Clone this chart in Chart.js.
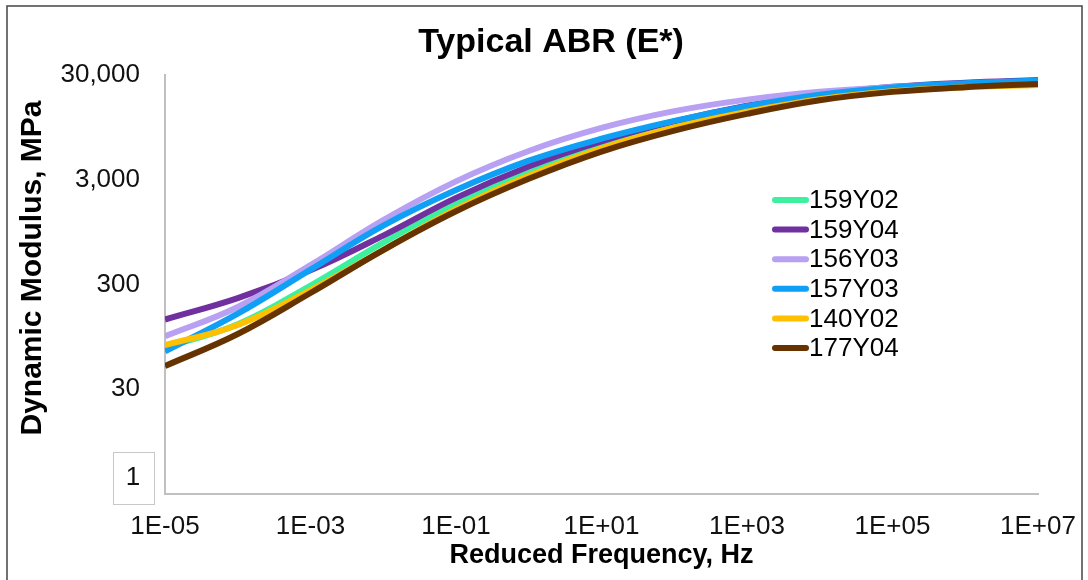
<!DOCTYPE html>
<html>
<head>
<meta charset="utf-8">
<script src="https://cdn.jsdelivr.net/npm/chart.js@4/dist/chart.umd.min.js"></script>
<style>
  html, body { margin: 0; padding: 0; background: #fff; }
  #wrap { width: 1088px; height: 580px; position: relative; }
</style>
</head>
<body>
<div id="wrap"><canvas id="abr-canvas"></canvas></div>
<script>
// reduced frequency (Hz), one point per decade
const freqs = [1e-5, 1e-4, 1e-3, 1e-2, 1e-1, 1e0, 1e1, 1e2, 1e3, 1e4, 1e5, 1e6, 1e7];

// dynamic modulus |E*| (MPa)
const e159Y02 = [75, 125, 293, 753, 1766, 3524, 6266, 9705, 13709, 18072, 21727, 24099, 25527];
const e159Y04 = [139, 222, 410, 879, 2014, 4018, 6982, 10814, 15276, 19679, 23121, 25354, 26853];
const e156Y03 = [96, 183, 459, 1236, 2897, 5649, 9376, 13552, 17458, 20749, 23014, 24660, 25823];
const e157Y03 = [69, 158, 416, 1094, 2393, 4560, 7396, 10940, 15101, 19454, 22856, 25061, 26546];
const e140Y02 = [79, 123, 265, 640, 1570, 3281, 5970, 9462, 13366, 17620, 20941, 22961, 24044];
const e177Y04 = [50, 101, 249, 640, 1500, 3062, 5572, 8831, 12764, 17219, 20701, 22961, 24604];

const seriesNames = ['159Y02', '159Y04', '156Y03', '157Y03', '140Y02', '177Y04'];
const seriesValues = [e159Y02, e159Y04, e156Y03, e157Y03, e140Y02, e177Y04];
const seriesColors = ['#3cf0a0', '#7030a0', '#b8a0f2', '#0fa0f5', '#ffc000', '#663300'];

const xTicks = [1e-5, 1e-3, 1e-1, 1e1, 1e3, 1e5, 1e7];
const yTicks = [3, 30, 300, 3000, 30000];

const FONT = "'Liberation Sans', Arial, sans-serif";

const datasets = seriesNames.map(function (name, i) {
    return {
        label: name,
        data: freqs.map(function (f, j) { return { x: f, y: seriesValues[i][j] }; }),
        borderColor: seriesColors[i],
        backgroundColor: seriesColors[i],
        borderWidth: 6,
        pointRadius: 0,
        tension: 0.4,
        fill: false,
        order: seriesNames.length - i
    };
});

// legend drawn inside the plot, like the original
const insideLegend = {
    id: 'insideLegend',
    afterDatasetsDraw: function (chart) {
        const ctx = chart.ctx;
        ctx.save();
        ctx.font = '26px ' + FONT;
        ctx.textBaseline = 'middle';
        ctx.textAlign = 'left';
        chart.data.datasets.forEach(function (ds, i) {
            const y = 200 + i * 29.6;
            ctx.strokeStyle = ds.borderColor;
            ctx.lineWidth = 6;
            ctx.lineCap = 'round';
            ctx.beginPath();
            ctx.moveTo(775, y);
            ctx.lineTo(806, y);
            ctx.stroke();
            ctx.fillStyle = '#000';
            ctx.fillText(ds.label, 809, y + 1);
        });
        ctx.restore();
    }
};

// chart title, y axis title, outer frame and the little "1" box
const decorations = {
    id: 'decorations',
    afterDraw: function (chart) {
        const ctx = chart.ctx;
        ctx.save();
        ctx.fillStyle = '#000';
        ctx.textAlign = 'center';
        ctx.textBaseline = 'middle';
        ctx.font = 'bold 34px ' + FONT;
        ctx.fillText('Typical ABR (E*)', 551, 43);

        ctx.save();
        ctx.translate(33, 268);
        ctx.rotate(-Math.PI / 2);
        ctx.font = 'bold 30px ' + FONT;
        ctx.fillText('Dynamic Modulus, MPa', 0, 0);
        ctx.restore();

        ctx.strokeStyle = '#444';
        ctx.lineWidth = 1.5;
        ctx.strokeRect(7, 6, 1075, 620);
        ctx.strokeStyle = '#c8c8c8';
        ctx.lineWidth = 1;
        ctx.strokeRect(113.5, 452.5, 41, 52);
        ctx.fillStyle = '#111';
        ctx.font = '26px ' + FONT;
        ctx.fillText('1', 133, 478);
        ctx.restore();
    }
};

new Chart(document.getElementById('abr-canvas'), {
    type: 'line',
    data: { datasets: datasets },
    options: {
        responsive: true,
        maintainAspectRatio: false,
        animation: false,
        layout: { padding: { top: 75, right: 50, bottom: 0, left: 0 } },
        plugins: {
            legend: { display: false },
            tooltip: { enabled: false },
            title: { display: false }
        },
        scales: {
            x: {
                type: 'logarithmic',
                min: 1e-5,
                max: 1e7,
                grid: { display: false },
                border: { display: true, color: '#c0c0c0', width: 2 },
                afterBuildTicks: function (scale) {
                    scale.ticks = xTicks.map(function (v) { return { value: v }; });
                },
                afterFit: function (scale) { scale.height = 86; },
                ticks: {
                    color: '#111',
                    font: { family: FONT, size: 26 },
                    padding: 9,
                    maxRotation: 0,
                    autoSkip: false,
                    callback: function (v) {
                        const e = Math.round(Math.log10(v));
                        return '1E' + (e < 0 ? '-' : '+') + String(Math.abs(e)).padStart(2, '0');
                    }
                },
                title: {
                    display: true,
                    text: 'Reduced Frequency, Hz',
                    color: '#000',
                    font: { family: FONT, size: 27, weight: 'bold' },
                    padding: { top: 0, bottom: 8 }
                }
            },
            y: {
                type: 'logarithmic',
                min: 3,
                max: 30000,
                grid: { display: false },
                border: { display: true, color: '#c0c0c0', width: 2 },
                afterBuildTicks: function (scale) {
                    scale.ticks = yTicks.map(function (v) { return { value: v }; });
                },
                afterFit: function (scale) { scale.width = 165; },
                ticks: {
                    color: '#111',
                    font: { family: FONT, size: 26 },
                    padding: 17,
                    autoSkip: false,
                    callback: function (v) {
                        return v === 3 ? '' : Number(v).toLocaleString('en-US');
                    }
                }
            }
        }
    },
    plugins: [insideLegend, decorations]
});
</script>
</body>
</html>
